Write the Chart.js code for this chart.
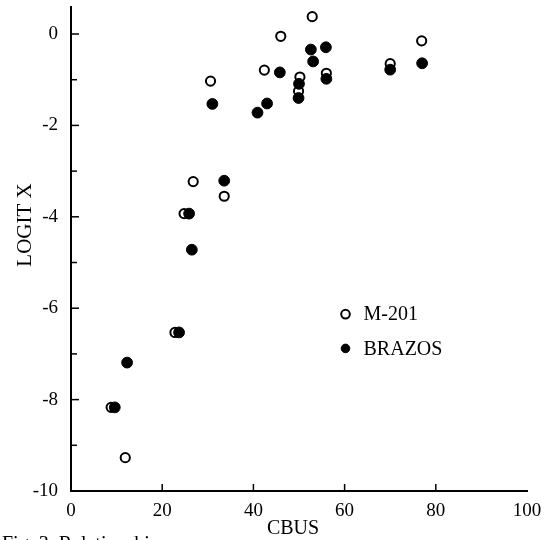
<!DOCTYPE html>
<html>
<head>
<meta charset="utf-8">
<script src="https://cdn.jsdelivr.net/npm/chart.js@4.4.1/dist/chart.umd.min.js"></script>
<style>
  body { margin: 0; background: #fff; }
  #chart { display: block; }
</style>
</head>
<body>
<canvas id="chart" width="546" height="540"></canvas>
<script>
// values
const m201X = [52.9, 46.0, 76.9, 70.0, 42.4, 50.2, 49.9, 56.0, 30.6, 26.8, 33.6, 24.8, 22.8, 8.8, 11.9];
const m201Y = [0.38, -0.05, -0.15, -0.65, -0.79, -0.94, -1.25, -0.86, -1.03, -3.23, -3.55, -3.93, -6.53, -8.17, -9.27];
const brazosX = [52.6, 55.9, 53.1, 70.0, 77.0, 45.8, 50.0, 49.9, 56.0, 31.0, 40.9, 43.0, 33.6, 25.9, 26.5, 23.7, 12.3, 9.6];
const brazosY = [-0.34, -0.29, -0.60, -0.78, -0.64, -0.84, -1.09, -1.40, -0.98, -1.53, -1.72, -1.52, -3.21, -3.93, -4.72, -6.53, -7.19, -8.17];

const seriesNames = ['M-201', 'BRAZOS'];
const xTicks = [0, 20, 40, 60, 80, 100];
const yTicks = [0, -2, -4, -6, -8, -10];
const yMinorTicks = [0, -1, -2, -3, -4, -5, -6, -7, -8, -9, -10];
const xTitle = 'CBUS';
const yTitle = 'LOGIT X';
const caption = 'Fig. 3. Relationship';

const serif = "'Liberation Serif', 'DejaVu Serif', serif";

const toPoints = (xs, ys) => xs.map((v, i) => ({ x: v, y: ys[i] }));

const decorations = {
    id: 'decorations',
    afterDraw(chart) {
        const { ctx, chartArea } = chart;
        const x = chart.scales.x;
        const y = chart.scales.y;
        ctx.save();
        ctx.strokeStyle = '#000';
        ctx.lineWidth = 1.5;

        // tick marks point into the plot
        yMinorTicks.forEach(v => {
            const py = y.getPixelForValue(v);
            const len = v % 2 === 0 ? 8 : 6;
            ctx.beginPath();
            ctx.moveTo(chartArea.left, py);
            ctx.lineTo(chartArea.left + len, py);
            ctx.stroke();
        });
        xTicks.slice(1, -1).forEach(v => {
            const px = x.getPixelForValue(v);
            ctx.beginPath();
            ctx.moveTo(px, chartArea.bottom);
            ctx.lineTo(px, chartArea.bottom - 7);
            ctx.stroke();
        });

        // legend inside the plot
        const legendY = [y.getPixelForValue(-6.13), y.getPixelForValue(-6.88)];
        const legendX = x.getPixelForValue(60.2);
        chart.data.datasets.forEach((ds, i) => {
            ctx.beginPath();
            ctx.arc(legendX, legendY[i], 4.3, 0, Math.PI * 2);
            ctx.fillStyle = ds.backgroundColor;
            ctx.fill();
            ctx.lineWidth = ds.borderWidth;
            ctx.strokeStyle = ds.borderColor;
            ctx.stroke();
            ctx.fillStyle = '#000';
            ctx.font = `20px ${serif}`;
            ctx.textAlign = 'left';
            ctx.textBaseline = 'middle';
            ctx.fillText(ds.label, legendX + 18, legendY[i] + 1);
        });

        // axis titles
        ctx.fillStyle = '#000';
        ctx.font = `20px ${serif}`;
        ctx.textAlign = 'center';
        ctx.textBaseline = 'middle';
        ctx.fillText(xTitle, 293, 529);

        ctx.save();
        ctx.translate(25, 225);
        ctx.rotate(-Math.PI / 2);
        ctx.font = `21px ${serif}`;
        ctx.fillText(yTitle, 0, 0);
        ctx.restore();

        // figure caption, cut off by the bottom edge as in the scan
        ctx.font = `20px ${serif}`;
        ctx.textAlign = 'left';
        ctx.textBaseline = 'top';
        ctx.fillText(caption, 2, 535);
        ctx.restore();
    }
};

const ctx = document.getElementById('chart').getContext('2d');
new Chart(ctx, {
    type: 'scatter',
    data: {
        datasets: [
            {
                label: seriesNames[0],
                data: toPoints(m201X, m201Y),
                pointStyle: 'circle',
                pointRadius: 4.6,
                backgroundColor: '#ffffff',
                borderColor: '#000000',
                borderWidth: 2,
                order: 1
            },
            {
                label: seriesNames[1],
                data: toPoints(brazosX, brazosY),
                pointStyle: 'circle',
                pointRadius: 5.4,
                backgroundColor: '#000000',
                borderColor: '#000000',
                borderWidth: 1,
                order: 0
            }
        ]
    },
    options: {
        responsive: false,
        animation: false,
        layout: { padding: { left: 0, right: 19, top: 6, bottom: 0 } },
        plugins: {
            legend: { display: false },
            tooltip: { enabled: false },
            title: { display: false }
        },
        scales: {
            x: {
                type: 'linear',
                min: 0,
                max: 100,
                afterBuildTicks: (scale) => { scale.ticks = xTicks.map(v => ({ value: v })); },
                afterFit: (scale) => {
                    scale.height = 49;
                    scale.paddingLeft = 0;
                    scale.paddingRight = 0;
                },
                ticks: {
                    color: '#000',
                    font: { family: serif, size: 19 },
                    padding: 1,
                    maxRotation: 0
                },
                grid: { display: false },
                border: { display: true, color: '#000', width: 2 }
            },
            y: {
                type: 'linear',
                min: -10,
                max: 0.6,
                afterBuildTicks: (scale) => { scale.ticks = yTicks.map(v => ({ value: v })); },
                afterFit: (scale) => {
                    scale.width = 71;
                    scale.paddingTop = 0;
                    scale.paddingBottom = 0;
                },
                ticks: {
                    color: '#000',
                    font: { family: serif, size: 19 },
                    padding: 5
                },
                grid: { display: false },
                border: { display: true, color: '#000', width: 2 }
            }
        }
    },
    plugins: [decorations]
});
</script>
</body>
</html>
